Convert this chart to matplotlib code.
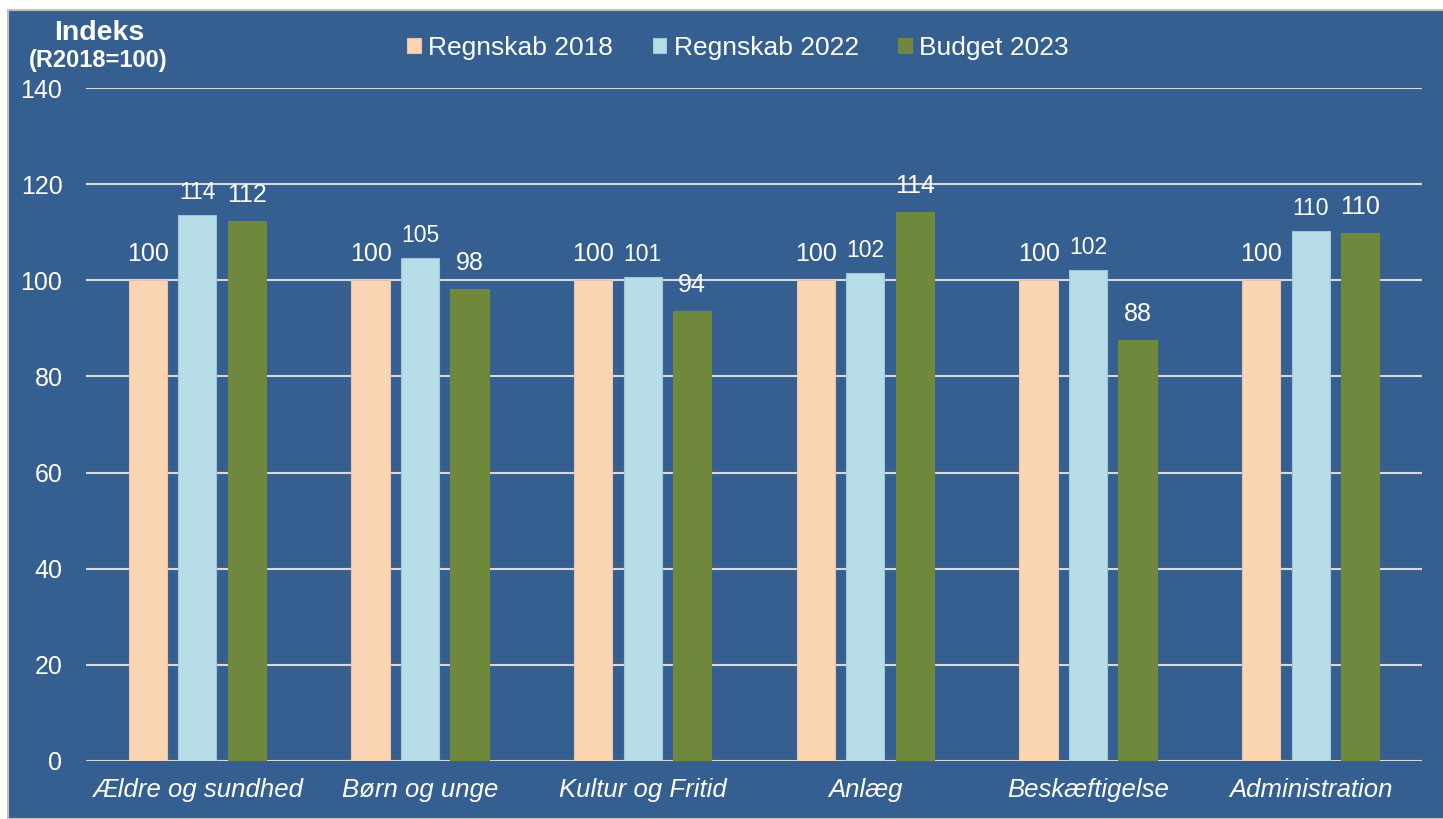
import matplotlib.pyplot as plt
import numpy as np
from matplotlib.patches import Rectangle

plt.rcParams['font.family'] = ['Liberation Sans', 'DejaVu Sans']

categories = ["Ældre og sundhed", "Børn og unge", "Kultur og Fritid",
              "Anlæg", "Beskæftigelse", "Administration"]
series = ["Regnskab 2018", "Regnskab 2022", "Budget 2023"]
r2018 = [100, 100, 100, 100, 100, 100]
r2022 = [113.6, 104.6, 100.7, 101.5, 102.1, 110.3]
b2023 = [112.3, 98.2, 93.6, 114.2, 87.6, 109.8]

bg = '#365F91'
colors = ['#FCD5B5', '#B7DEE8', '#70883B']
edges = ['#E8C4A6', '#9EC6D6', '#70883B']
label_sizes = [18, 16.5, 18]
label_offsets = [10, 8, 10]

fig = plt.figure(figsize=(14.43, 8.19), dpi=100, facecolor='white')
fig.patches.append(Rectangle((8 / 1443, 0), 1, 1 - 10 / 819, transform=fig.transFigure,
                             facecolor=bg, edgecolor='#BFBFBF', linewidth=1.5, zorder=0))

ax = fig.add_axes([86 / 1443, 1 - 761 / 819, (1422 - 86) / 1443, (761 - 88) / 819])
ax.set_zorder(2)
ax.patch.set_alpha(0)

x = np.arange(len(categories))
width = 0.172
offset = 0.222
for i, (name, vals) in enumerate(zip(series, [r2018, r2022, b2023])):
    pos = x + (i - 1) * offset
    bars = ax.bar(pos, vals, width, color=colors[i], edgecolor=edges[i],
                  linewidth=0.8, label=name, zorder=3)
    for b, v in zip(bars, vals):
        ax.annotate(f"{v:.0f}", xy=(b.get_x() + b.get_width() / 2, v),
                    xytext=(0, label_offsets[i]), textcoords='offset points',
                    ha='center', va='bottom', color='white',
                    fontsize=label_sizes[i])

ax.set_xlim(-0.5, len(categories) - 0.5)
ax.set_ylim(0, 140)
ax.set_yticks(np.arange(0, 141, 20))
ax.yaxis.grid(True, color='#D9D9D9', linewidth=1.5, zorder=1)
ax.set_axisbelow(True)
for s in ax.spines.values():
    s.set_visible(False)
ax.tick_params(axis='both', length=0, colors='white')
ax.tick_params(axis='y', labelsize=18, pad=17)
ax.tick_params(axis='x', labelsize=18.5, pad=12)
ax.set_xticks(x)
ax.set_xticklabels(categories, style='italic')

fig.text(99 / 1443, 1 - 33 / 819, "Indeks", ha='center', va='center',
         color='white', fontsize=20.5, fontweight='bold')
fig.text(98 / 1443, 1 - 60 / 819, "(R2018=100)", ha='center', va='center',
         color='white', fontsize=17, fontweight='bold')

leg = fig.legend(loc='center', bbox_to_anchor=(738 / 1443, 1 - 48 / 819), ncol=3,
                 frameon=False, fontsize=19,
                 handlelength=0.53, handleheight=0.53,
                 handletextpad=0.27, columnspacing=1.5)
leg.set_zorder(5)
for t in leg.get_texts():
    t.set_color('white')

fig.savefig('out.png', dpi=100, facecolor=fig.get_facecolor())
